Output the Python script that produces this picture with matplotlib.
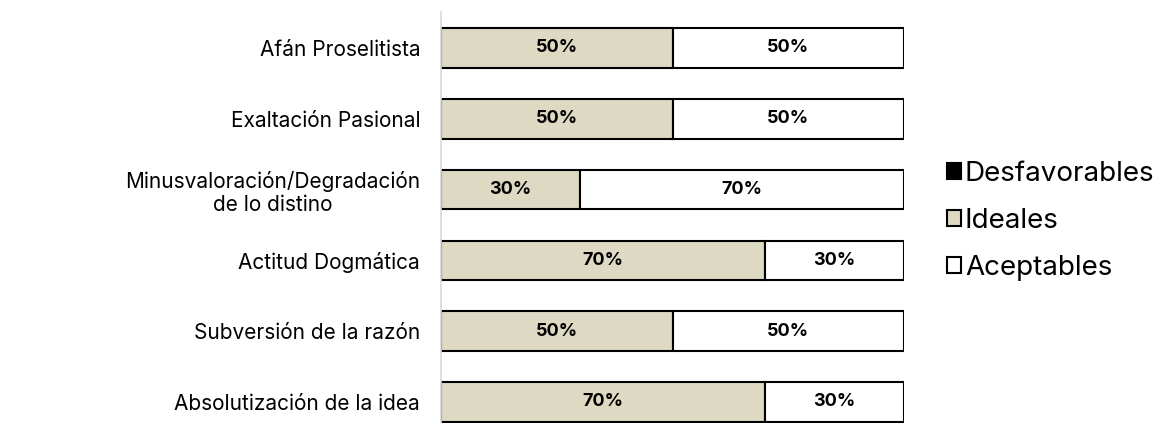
import numpy as np
import matplotlib.pyplot as plt

categories = ['Afán Proselitista', 'Exaltación Pasional',
              'Minusvaloración/Degradación\nde lo distino', 'Actitud Dogmática',
              'Subversión de la razón', 'Absolutización de la idea']
desfavorables = [0, 0, 0, 0, 0, 0]
ideales = [50, 50, 30, 70, 50, 70]
aceptables = [50, 50, 70, 30, 50, 30]

plt.rcParams['font.family'] = ['Inter', 'DejaVu Sans']

fig = plt.figure(figsize=(11.56, 4.23), dpi=100)
ax = fig.add_axes([441 / 1156, 0.0, 463 / 1156, 1 - 12 / 423])

y = np.arange(len(categories))
h = 0.56
d = np.array(desfavorables) / 100
i_ = np.array(ideales) / 100
a_ = np.array(aceptables) / 100

b0 = ax.barh(y, d, height=h, color='black', edgecolor='black', linewidth=1.5, label='Desfavorables')
b1 = ax.barh(y, i_, left=d, height=h, color='#ddd9c3', edgecolor='black', linewidth=1.5, label='Ideales')
b2 = ax.barh(y, a_, left=d + i_, height=h, color='white', edgecolor='black', linewidth=1.5, label='Aceptables')

for bars, vals in [(b1, ideales), (b2, aceptables)]:
    for bar, v in zip(bars, vals):
        if v > 0:
            ax.text(bar.get_x() + bar.get_width() / 2, bar.get_y() + bar.get_height() / 2,
                    f'{v}%', ha='center', va='center', fontsize=13, fontweight='bold')

ax.set_xlim(0, 1.0)
ax.set_ylim((423 - 48) / 70.8, (12 - 48) / 70.8)
ax.set_yticks(y)
ax.set_yticklabels(categories, fontsize=15, ha='right', multialignment='center')
ax.tick_params(axis='y', length=0, pad=15)
ax.set_xticks([])
for s in ['top', 'right', 'bottom']:
    ax.spines[s].set_visible(False)
ax.spines['left'].set_color('#d9d9d9')
ax.spines['left'].set_linewidth(1.2)

fig.legend(handles=[b0, b1, b2], loc='center left', bbox_to_anchor=(933 / 1156, 1 - 221 / 423),
           frameon=False, fontsize=20, handlelength=0.5, handleheight=0.5,
           handletextpad=0.15, labelspacing=0.75, borderpad=0)

fig.savefig('out.png', dpi=100)
